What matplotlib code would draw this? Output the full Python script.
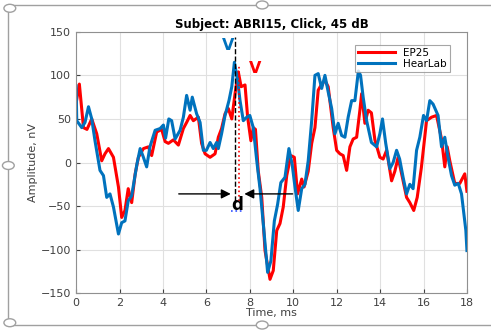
import numpy as np
import matplotlib.pyplot as plt
from matplotlib.patches import Rectangle, Circle

# Time (ms) and amplitude (nV)
t_hear = [0, 0.03, 0.26, 0.41, 0.57, 0.72, 0.87, 1.1, 1.26, 1.41, 1.56, 1.72, 1.95, 2.1, 2.25,
          2.4, 2.56, 2.8, 2.95, 3.1, 3.25, 3.4, 3.64, 3.87, 4.02, 4.12, 4.27, 4.4, 4.56, 4.79,
          4.94, 5.09, 5.25, 5.35, 5.55, 5.71, 5.86, 6.0, 6.17, 6.32, 6.47, 6.55, 6.7, 6.86,
          7.04, 7.17, 7.29, 7.44, 7.55, 7.7, 7.86, 8.0, 8.16, 8.32, 8.47, 8.62, 8.82, 8.97,
          9.13, 9.28, 9.43, 9.62, 9.8, 9.95, 10.08, 10.23, 10.39, 10.54, 10.69, 10.85, 11.0,
          11.15, 11.31, 11.46, 11.61, 11.77, 11.92, 12.07, 12.23, 12.38, 12.53, 12.69, 12.84,
          13.0, 13.1, 13.22, 13.38, 13.6, 13.84, 13.99, 14.11, 14.26, 14.45, 14.6, 14.76, 14.9,
          15.06, 15.22, 15.37, 15.52, 15.68, 15.83, 16.0, 16.14, 16.29, 16.44, 16.67, 16.83,
          16.98, 17.13, 17.29, 17.44, 17.6, 17.75, 17.95, 18.0]
a_hear = [88, 48, 40, 46, 64, 50, 25, -9, -15, -40, -36, -51, -82, -69, -67,
          -44, -38, -2, 16, 6, -5, 18, 37, 39, 43, 28, 50, 48, 27, 37,
          52, 77, 60, 75, 56, 46, 14, 14, 23, 16, 23, 16, 33, 54,
          71, 87, 115, 94, 71, 48, 52, 54, 40, 2, -30, -70, -126, -113,
          -67, -48, -23, -17, 16, -2, -28, -55, -30, -25, 2, 48, 100,
          102, 85, 100, 81, 62, 33, 45, 31, 29, 52, 71, 71,
          105, 100, 75, 48, 23, 18, 33, 50, 22, -7, 0, 14, 4,
          -17, -36, -25, -30, 14, 29, 54, 48, 71, 67, 54, 18,
          29, 6, -15, -26, -24, -36, -78, -101]

t_ep = [0, 0.15, 0.34, 0.5, 0.72, 0.95, 1.18, 1.33, 1.49, 1.72, 1.95, 2.1, 2.25, 2.4, 2.56,
        2.72, 2.87, 3.1, 3.33, 3.48, 3.71, 3.94, 4.1, 4.25, 4.48, 4.71, 4.94, 5.09, 5.25, 5.4,
        5.63, 5.78, 5.94, 6.17, 6.4, 6.55, 6.7, 6.86, 7.01, 7.17, 7.32, 7.47, 7.6, 7.78, 7.9,
        8.05, 8.16, 8.26, 8.39, 8.55, 8.7, 8.93, 9.08, 9.24, 9.39, 9.54, 9.7, 9.89, 10.05,
        10.2, 10.39, 10.5, 10.69, 10.85, 11.0, 11.15, 11.31, 11.46, 11.61, 11.84, 12.0, 12.15,
        12.3, 12.46, 12.61, 12.76, 12.92, 13.07, 13.15, 13.3, 13.45, 13.6, 13.76, 13.99, 14.14,
        14.3, 14.53, 14.68, 14.83, 15.06, 15.22, 15.37, 15.55, 15.71, 15.9, 16.14, 16.37, 16.6,
        16.83, 16.98, 17.09, 17.21, 17.44, 17.67, 17.9, 18.0]
a_ep = [68, 90, 40, 38, 50, 33, 2, 10, 16, 6, -28, -63, -55, -30, -46,
        -13, 6, 16, 18, 8, 35, 38, 24, 22, 26, 20, 39, 46, 54, 48,
        52, 22, 10, 6, 10, 29, 39, 56, 62, 50, 79, 104, 87, 89, 52,
        25, 40, 38, -10, -40, -101, -134, -124, -78, -70, -51, -15, 8, 6,
        -36, -19, -28, -10, 22, 40, 83, 90, 94, 87, 40, 14, 10,
        8, -9, 18, 27, 29, 60, 79, 45, 60, 57, 26, 6, 4,
        14, -21, -10, 6, -21, -40, -46, -55, -40, -6, 48, 52, 54,
        27, -5, 18, 2, -24, -24, -13, -33]

fig = plt.figure(figsize=(4.91, 3.31), dpi=100)

# frame of the embedded picture
fig.patches.append(Rectangle((0.017, 0.018), 1.2, 0.967, transform=fig.transFigure,
                             fill=False, ec='#a0a0a0', lw=1))
for cx, cy in [(0.02, 0.975), (0.534, 0.985), (0.017, 0.5), (0.02, 0.025), (0.534, 0.018)]:
    fig.patches.append(Circle((cx, cy), 0.012, transform=fig.transFigure,
                              fc='white', ec='#a0a0a0', lw=1))

ax = fig.add_axes([0.155, 0.114, 0.796, 0.79])
ax.plot(t_ep, a_ep, color='#ff0000', lw=2.2, label='EP25')
ax.plot(t_hear, a_hear, color='#0072bd', lw=2.2, label='HearLab')

ax.plot([7.3, 7.3], [-44, 144], color='black', ls='--', lw=1)
ax.plot([7.52, 7.52], [-44, 112], color='red', ls=':', lw=1.2)
ax.annotate('', xy=(7.25, -36), xytext=(4.6, -36),
            arrowprops=dict(arrowstyle='-|>', color='black', lw=1, mutation_scale=14))
ax.annotate('', xy=(7.62, -36), xytext=(10.1, -36),
            arrowprops=dict(arrowstyle='-|>', color='black', lw=1, mutation_scale=14))
ax.text(7.42, -49, 'd', fontsize=12, fontweight='bold', ha='center', va='center')
ax.plot([7.12, 7.72], [-56, -56], color='#3050ff', ls=':', lw=1.2)
ax.text(7.0, 134, 'V', color='#0072bd', fontsize=11.5, fontweight='bold', ha='center', va='center')
ax.text(8.25, 108, 'V', color='#ff0000', fontsize=11.5, fontweight='bold', ha='center', va='center')

ax.set_xlim(0, 18)
ax.set_ylim(-150, 150)
ax.set_xticks(np.arange(0, 19, 2))
ax.set_yticks(np.arange(-150, 151, 50))
ax.grid(True, color='#e0e0e0', lw=0.8)
ax.tick_params(labelsize=8, colors='#404040', length=3, direction='in')
for s in ax.spines.values():
    s.set_color('#909090')
ax.set_title('Subject: ABRI15, Click, 45 dB', fontsize=8.5, fontweight='bold', pad=3)
ax.set_xlabel('Time, ms', fontsize=8, color='#404040', labelpad=0)
ax.set_ylabel('Amplitude, nV', fontsize=8, color='#404040', labelpad=2)
leg = ax.legend(loc='upper right', fontsize=7.5, frameon=True, fancybox=False,
                edgecolor='#909090', handlelength=3.5, borderpad=0.3, labelspacing=0.1,
                bbox_to_anchor=(0.97, 0.97))
leg.get_frame().set_linewidth(0.8)

fig.savefig('out.png', dpi=100)
